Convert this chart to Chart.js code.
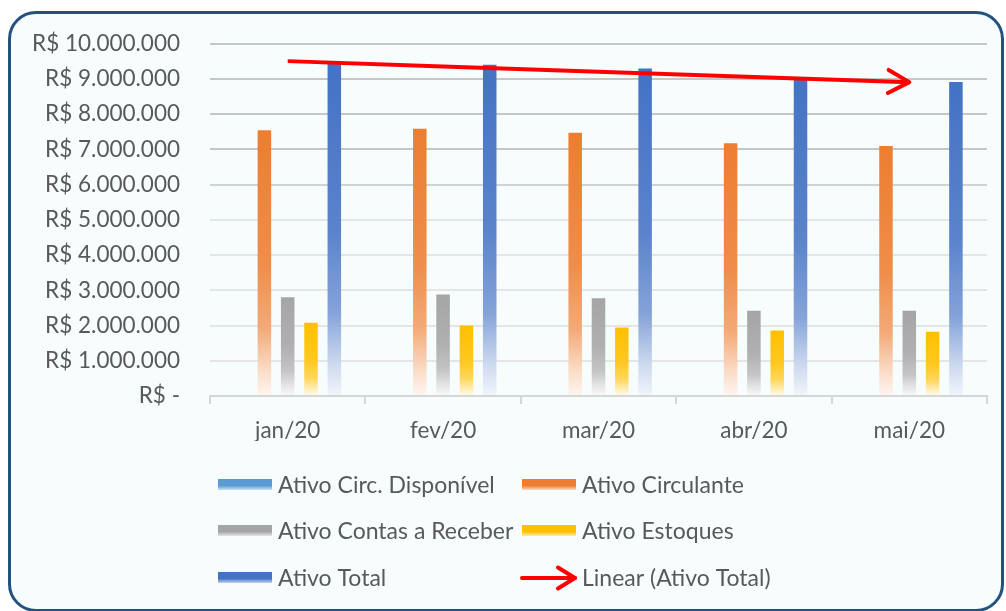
<!DOCTYPE html>
<html>
<head>
<meta charset="utf-8">
<script src="https://cdn.jsdelivr.net/npm/chart.js@4.4.1/dist/chart.umd.min.js"></script>
<style>
html,body{margin:0;padding:0;background:#fff;}
#frame{position:absolute;left:8px;top:11px;width:996px;height:601px;box-sizing:border-box;border:3px solid #24527f;border-radius:28px;background:#f7fcfd;}
#wrap{position:absolute;left:0;top:0;width:1006px;height:611px;}
</style>
</head>
<body>
<div id="frame"></div>
<div id="wrap"><canvas id="myChart" width="1006" height="611"></canvas></div>
<script>
const meses = ['jan/20', 'fev/20', 'mar/20', 'abr/20', 'mai/20']
const ativoDisponivel = [0, 0, 0, 0, 0]
const ativoCirculante = [7540000, 7580000, 7470000, 7170000, 7090000]
const ativoContasReceber = [2800000, 2880000, 2770000, 2420000, 2420000]
const ativoEstoques = [2080000, 2000000, 1940000, 1860000, 1820000]
const ativoTotal = [9440000, 9400000, 9290000, 8970000, 8910000]
const nomes = ['Ativo Circ. Disponível', 'Ativo Circulante', 'Ativo Contas a Receber', 'Ativo Estoques', 'Ativo Total', 'Linear (Ativo Total)']
const cores = ['#5b9bd5', '#ed7d31', '#a5a5a5', '#ffc000', '#4472c4', '#ff0000']
const yMin = 0
const yMax = 10000000
const yPasso = 1000000

const fonte = 'Lato'
const corTexto = '#595959'

// tendencia linear (minimos quadrados) do ativo total
function tendencia(valores) {
    const n = valores.length
    let sx = 0, sy = 0, sxy = 0, sxx = 0
    valores.forEach((v, i) => { sx += i; sy += v; sxy += i * v; sxx += i * i })
    const b = (n * sxy - sx * sy) / (n * sxx - sx * sx)
    const a = (sy - b * sx) / n
    return valores.map((v, i) => a + b * i)
}

function clarear(hex, t) {
    const r = parseInt(hex.slice(1, 3), 16), g = parseInt(hex.slice(3, 5), 16), b = parseInt(hex.slice(5, 7), 16)
    const m = (c) => Math.round(c + (255 - c) * t)
    return `rgb(${m(r)},${m(g)},${m(b)})`
}

function degrade(ctx, topo, base, hex) {
    const g = ctx.createLinearGradient(0, topo, 0, base)
    g.addColorStop(0, hex)
    g.addColorStop(0.5, clarear(hex, 0.12))
    g.addColorStop(0.75, clarear(hex, 0.35))
    g.addColorStop(0.9, clarear(hex, 0.72))
    g.addColorStop(1, clarear(hex, 0.93))
    return g
}

function corBarra(hex) {
    return (c) => {
        const chart = c.chart
        if (!chart.chartArea || c.raw === undefined) return hex
        const y = chart.scales.y
        const topo = y.getPixelForValue(c.raw)
        const base = y.getPixelForValue(0)
        if (base - topo < 1) return hex
        return degrade(chart.ctx, topo, base, hex)
    }
}

function formatar(v) {
    if (v === 0) return 'R$ -'
    return 'R$ ' + String(v).replace(/\B(?=(\d{3})+(?!\d))/g, '.')
}

function corGrade(c) {
    const v = c.tick ? c.tick.value : 0
    if (v >= 7000000) return '#c6c6c6'
    if (v >= 6000000) return '#d2d2d2'
    return '#e6e4e7'
}

function seta(ctx, x0, y0, x1, y1, tam, abertura) {
    const ang = Math.atan2(y1 - y0, x1 - x0)
    ctx.beginPath()
    ctx.moveTo(x1 - tam * Math.cos(ang - abertura), y1 - tam * Math.sin(ang - abertura))
    ctx.lineTo(x1, y1)
    ctx.lineTo(x1 - tam * Math.cos(ang + abertura), y1 - tam * Math.sin(ang + abertura))
    ctx.stroke()
}

const setaPlugin = {
    id: 'setaTendencia',
    afterDatasetsDraw(chart) {
        const meta = chart.getDatasetMeta(5)
        const pts = meta.data
        if (pts.length < 2) return
        const a = pts[pts.length - 2], b = pts[pts.length - 1]
        const ctx = chart.ctx
        ctx.save()
        ctx.strokeStyle = cores[5]
        ctx.lineWidth = 4
        ctx.lineCap = 'round'
        ctx.lineJoin = 'round'
        seta(ctx, a.x, a.y, b.x, b.y, 24, 0.5)
        ctx.restore()
    }
}

const legendaPlugin = {
    id: 'legenda',
    afterDraw(chart) {
        const ctx = chart.ctx
        const linhas = [485, 531, 578]
        const colunas = [218, 522]
        ctx.save()
        ctx.font = `23px ${fonte}`
        ctx.fillStyle = corTexto
        ctx.textBaseline = 'middle'
        chart.data.datasets.forEach((ds, i) => {
            const x = colunas[i % 2]
            const y = linhas[Math.floor(i / 2)]
            if (ds.type === 'line') {
                ctx.strokeStyle = cores[i]
                ctx.lineWidth = 4
                ctx.lineCap = 'round'
                ctx.lineJoin = 'round'
                ctx.beginPath()
                ctx.moveTo(x, y)
                ctx.lineTo(x + 53, y)
                ctx.stroke()
                seta(ctx, x, y, x + 53, y, 20, 0.55)
            } else {
                const g = ctx.createLinearGradient(0, y - 6, 0, y + 5)
                g.addColorStop(0, cores[i])
                g.addColorStop(0.6, cores[i])
                g.addColorStop(1, clarear(cores[i], 0.7))
                ctx.fillStyle = g
                ctx.fillRect(x, y - 6, 54, 11)
            }
            ctx.fillStyle = corTexto
            ctx.fillText(ds.label, x + 60, y + 1)
        })
        ctx.restore()
    }
}

let myChart = null

function renderGrafica() {
    const barras = [ativoDisponivel, ativoCirculante, ativoContasReceber, ativoEstoques, ativoTotal]
    const datasets = barras.map((valores, i) => ({
        type: 'bar',
        label: nomes[i],
        data: valores,
        backgroundColor: corBarra(cores[i]),
        borderWidth: 0,
        categoryPercentage: 0.75,
        barPercentage: 0.58,
        order: 1
    }))
    datasets.push({
        type: 'line',
        label: nomes[5],
        data: tendencia(ativoTotal),
        borderColor: cores[5],
        borderWidth: 4,
        pointRadius: 0,
        fill: false,
        order: 0
    })

    const config = {
        type: 'bar',
        data: { labels: meses, datasets: datasets },
        plugins: [setaPlugin, legendaPlugin],
        options: {
            responsive: false,
            animation: false,
            layout: { padding: { left: 0, top: 42, right: 19, bottom: 170 } },
            plugins: { legend: { display: false }, tooltip: { enabled: false } },
            scales: {
                x: {
                    grid: { offset: true, drawOnChartArea: false, drawTicks: true, tickLength: 8, color: '#d6d6d6', lineWidth: 2 },
                    border: { display: true, color: '#d6d6d6', width: 2 },
                    ticks: { color: corTexto, font: { family: fonte, size: 22.5 }, padding: 13 },
                    afterFit: (s) => { s.height = 45 }
                },
                y: {
                    min: yMin,
                    max: yMax,
                    grid: { drawTicks: false, color: corGrade, lineWidth: 2 },
                    border: { display: false },
                    ticks: { stepSize: yPasso, color: corTexto, font: { family: fonte, size: 22.5 }, padding: 30, callback: formatar },
                    afterFit: (s) => { s.width = 210 }
                }
            }
        }
    }
    const chartContainer = document.getElementById('myChart')
    if (myChart instanceof Chart) {
        myChart.destroy()
    }
    myChart = new Chart(chartContainer, config)
}

document.fonts.load(`23px ${fonte}`).then(renderGrafica, renderGrafica)
</script>
</body>
</html>
